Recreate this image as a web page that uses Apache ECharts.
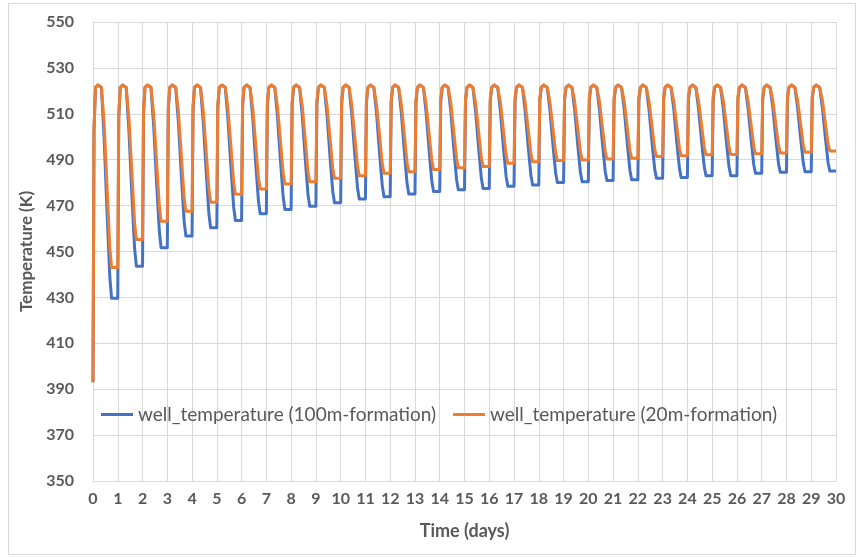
<!DOCTYPE html>
<html>
<head>
<meta charset="utf-8">
<script src="https://cdn.jsdelivr.net/npm/echarts@6/dist/echarts.min.js"></script>
<style>
  html, body { margin: 0; padding: 0; background: #ffffff; }
  #main { width: 863px; height: 557px; }
</style>
</head>
<body>
<div id="main"></div>
<script>
// time samples (days), one row per daily cycle
var timeDays = [
    0, 0.04, 0.1, 0.2, 0.34, 0.45, 0.57, 0.68, 0.75,
    1, 1.04, 1.1, 1.2, 1.34, 1.45, 1.57, 1.68, 1.75,
    2, 2.04, 2.1, 2.2, 2.34, 2.45, 2.57, 2.68, 2.75,
    3, 3.04, 3.1, 3.2, 3.34, 3.45, 3.57, 3.68, 3.75,
    4, 4.04, 4.1, 4.2, 4.34, 4.45, 4.57, 4.68, 4.75,
    5, 5.04, 5.1, 5.2, 5.34, 5.45, 5.57, 5.68, 5.75,
    6, 6.04, 6.1, 6.2, 6.34, 6.45, 6.57, 6.68, 6.75,
    7, 7.04, 7.1, 7.2, 7.34, 7.45, 7.57, 7.68, 7.75,
    8, 8.04, 8.1, 8.2, 8.34, 8.45, 8.57, 8.68, 8.75,
    9, 9.04, 9.1, 9.2, 9.34, 9.45, 9.57, 9.68, 9.75,
    10, 10.04, 10.1, 10.2, 10.34, 10.45, 10.57, 10.68, 10.75,
    11, 11.04, 11.1, 11.2, 11.34, 11.45, 11.57, 11.68, 11.75,
    12, 12.04, 12.1, 12.2, 12.34, 12.45, 12.57, 12.68, 12.75,
    13, 13.04, 13.1, 13.2, 13.34, 13.45, 13.57, 13.68, 13.75,
    14, 14.04, 14.1, 14.2, 14.34, 14.45, 14.57, 14.68, 14.75,
    15, 15.04, 15.1, 15.2, 15.34, 15.45, 15.57, 15.68, 15.75,
    16, 16.04, 16.1, 16.2, 16.34, 16.45, 16.57, 16.68, 16.75,
    17, 17.04, 17.1, 17.2, 17.34, 17.45, 17.57, 17.68, 17.75,
    18, 18.04, 18.1, 18.2, 18.34, 18.45, 18.57, 18.68, 18.75,
    19, 19.04, 19.1, 19.2, 19.34, 19.45, 19.57, 19.68, 19.75,
    20, 20.04, 20.1, 20.2, 20.34, 20.45, 20.57, 20.68, 20.75,
    21, 21.04, 21.1, 21.2, 21.34, 21.45, 21.57, 21.68, 21.75,
    22, 22.04, 22.1, 22.2, 22.34, 22.45, 22.57, 22.68, 22.75,
    23, 23.04, 23.1, 23.2, 23.34, 23.45, 23.57, 23.68, 23.75,
    24, 24.04, 24.1, 24.2, 24.34, 24.45, 24.57, 24.68, 24.75,
    25, 25.04, 25.1, 25.2, 25.34, 25.45, 25.57, 25.68, 25.75,
    26, 26.04, 26.1, 26.2, 26.34, 26.45, 26.57, 26.68, 26.75,
    27, 27.04, 27.1, 27.2, 27.34, 27.45, 27.57, 27.68, 27.75,
    28, 28.04, 28.1, 28.2, 28.34, 28.45, 28.57, 28.68, 28.75,
    29, 29.04, 29.1, 29.2, 29.34, 29.45, 29.57, 29.68, 29.75,
    30
];

// well_temperature (100m-formation), K
var well100m = [
    393.0, 502.7, 521.5, 522.5, 521.5, 499.4, 466.4, 438.8, 429.6,
    429.6, 508.1, 521.5, 522.5, 521.5, 502.8, 474.8, 451.4, 443.6,
    443.6, 510.2, 521.5, 522.5, 521.5, 504.7, 479.6, 458.6, 451.6,
    451.6, 511.4, 521.5, 522.5, 521.5, 506.0, 482.6, 463.2, 456.7,
    456.7, 512.2, 521.5, 522.5, 521.5, 506.8, 484.8, 466.4, 460.3,
    460.3, 512.7, 521.5, 522.5, 521.5, 507.6, 486.7, 469.3, 463.5,
    463.5, 513.2, 521.5, 522.5, 521.5, 508.3, 488.5, 472.0, 466.5,
    466.5, 513.7, 521.5, 522.5, 521.5, 508.7, 489.6, 473.6, 468.3,
    468.3, 513.9, 521.5, 522.5, 521.5, 509.1, 490.4, 474.9, 469.7,
    469.7, 514.2, 521.5, 522.5, 521.5, 509.4, 491.3, 476.2, 471.2,
    471.2, 514.4, 521.5, 522.5, 521.5, 509.8, 492.3, 477.8, 472.9,
    472.9, 514.6, 521.5, 522.5, 521.5, 510.1, 492.9, 478.7, 473.9,
    473.9, 514.8, 521.5, 522.5, 521.5, 510.4, 493.7, 479.7, 475.1,
    475.1, 515.0, 521.5, 522.5, 521.5, 510.6, 494.3, 480.6, 476.1,
    476.1, 515.1, 521.5, 522.5, 521.5, 510.8, 494.7, 481.4, 476.9,
    476.9, 515.2, 521.5, 522.5, 521.5, 510.9, 495.1, 481.9, 477.5,
    477.5, 515.3, 521.5, 522.5, 521.5, 511.2, 495.6, 482.7, 478.4,
    478.4, 515.5, 521.5, 522.5, 521.5, 511.3, 496.0, 483.3, 479.0,
    479.0, 515.6, 521.5, 522.5, 521.5, 511.6, 496.7, 484.2, 480.1,
    480.1, 515.7, 521.5, 522.5, 521.5, 511.6, 496.8, 484.5, 480.4,
    480.4, 515.8, 521.5, 522.5, 521.5, 511.8, 497.1, 485.0, 480.9,
    480.9, 515.8, 521.5, 522.5, 521.5, 511.9, 497.4, 485.3, 481.3,
    481.3, 515.9, 521.5, 522.5, 521.5, 512.0, 497.7, 485.9, 481.9,
    481.9, 516.0, 521.5, 522.5, 521.5, 512.1, 497.9, 486.1, 482.2,
    482.2, 516.0, 521.5, 522.5, 521.5, 512.3, 498.4, 486.9, 483.0,
    483.0, 516.2, 521.5, 522.5, 521.5, 512.3, 498.4, 486.9, 483.0,
    483.0, 516.2, 521.5, 522.5, 521.5, 512.5, 499.1, 487.8, 484.1,
    484.1, 516.3, 521.5, 522.5, 521.5, 512.6, 499.3, 488.2, 484.5,
    484.5, 516.4, 521.5, 522.5, 521.5, 512.7, 499.5, 488.5, 484.8,
    484.8, 516.4, 521.5, 522.5, 521.5, 512.8, 499.7, 488.7, 485.1,
    485.1
];

// well_temperature (20m-formation), K
var well20m = [
    393.0, 502.7, 521.5, 522.5, 521.5, 505.8, 477.5, 451.6, 443.0,
    443.0, 510.2, 521.5, 522.5, 521.5, 508.2, 484.4, 462.5, 455.2,
    455.2, 512.0, 521.5, 522.5, 521.5, 509.8, 488.9, 469.6, 463.2,
    463.2, 513.2, 521.5, 522.5, 521.5, 510.7, 491.3, 473.4, 467.5,
    467.5, 513.8, 521.5, 522.5, 521.5, 511.5, 493.5, 477.0, 471.5,
    471.5, 514.4, 521.5, 522.5, 521.5, 512.2, 495.5, 480.1, 475.0,
    475.0, 515.0, 521.5, 522.5, 521.5, 512.6, 496.7, 482.1, 477.2,
    477.2, 515.3, 521.5, 522.5, 521.5, 513.1, 497.9, 484.0, 479.4,
    479.4, 515.6, 521.5, 522.5, 521.5, 513.3, 498.5, 484.9, 480.4,
    480.4, 515.8, 521.5, 522.5, 521.5, 513.6, 499.3, 486.3, 481.9,
    481.9, 516.0, 521.5, 522.5, 521.5, 513.8, 499.9, 487.2, 483.0,
    483.0, 516.2, 521.5, 522.5, 521.5, 514.0, 500.6, 488.2, 484.1,
    484.1, 516.3, 521.5, 522.5, 521.5, 514.2, 501.0, 488.8, 484.8,
    484.8, 516.4, 521.5, 522.5, 521.5, 514.3, 501.5, 489.6, 485.7,
    485.7, 516.6, 521.5, 522.5, 521.5, 514.5, 501.9, 490.4, 486.5,
    486.5, 516.7, 521.5, 522.5, 521.5, 514.6, 502.2, 490.8, 487.0,
    487.0, 516.8, 521.5, 522.5, 521.5, 514.9, 503.0, 492.0, 488.4,
    488.4, 517.0, 521.5, 522.5, 521.5, 515.0, 503.4, 492.7, 489.1,
    489.1, 517.1, 521.5, 522.5, 521.5, 515.1, 503.6, 493.1, 489.6,
    489.6, 517.1, 521.5, 522.5, 521.5, 515.2, 503.8, 493.4, 489.9,
    489.9, 517.2, 521.5, 522.5, 521.5, 515.3, 504.0, 493.7, 490.3,
    490.3, 517.3, 521.5, 522.5, 521.5, 515.3, 504.2, 494.0, 490.6,
    490.6, 517.3, 521.5, 522.5, 521.5, 515.5, 504.6, 494.7, 491.4,
    491.4, 517.4, 521.5, 522.5, 521.5, 515.5, 504.8, 495.0, 491.7,
    491.7, 517.5, 521.5, 522.5, 521.5, 515.6, 505.1, 495.4, 492.2,
    492.2, 517.5, 521.5, 522.5, 521.5, 515.7, 505.2, 495.5, 492.3,
    492.3, 517.5, 521.5, 522.5, 521.5, 515.7, 505.3, 495.8, 492.6,
    492.6, 517.6, 521.5, 522.5, 521.5, 515.8, 505.5, 496.1, 492.9,
    492.9, 517.6, 521.5, 522.5, 521.5, 515.8, 505.7, 496.3, 493.2,
    493.2, 517.7, 521.5, 522.5, 521.5, 516.0, 506.0, 496.9, 493.8,
    493.8
];

var seriesNames = ['well_temperature (100m-formation)', 'well_temperature (20m-formation)'];

var pairUp = function(xs, ys) {
    var res = [];
    for (var i = 0; i < xs.length; i++) {
        res.push([xs[i], ys[i]]);
    }
    return res;
};

var myChart = echarts.init(document.getElementById('main'));

var textColor = '#595959';
var gridColor = '#d9d9d9';
var fontName = 'Lato';

option = {
    backgroundColor: '#ffffff',
    animation: false,
    graphic: [{
        type: 'rect',
        shape: { x: 8.5, y: 3.5, width: 847, height: 551 },
        style: { fill: 'none', stroke: gridColor, lineWidth: 1 },
        silent: true
    }],
    grid: {
        left: 93,
        right: 27,
        top: 22,
        bottom: 76,
        containLabel: false
    },
    legend: [{
        data: [seriesNames[0]],
        left: 96,
        top: 400,
        itemWidth: 32,
        itemHeight: 3,
        icon: 'rect',
        textStyle: { color: textColor, fontSize: 19, fontFamily: fontName }
    }, {
        data: [seriesNames[1]],
        left: 448,
        top: 400,
        itemWidth: 32,
        itemHeight: 3,
        icon: 'rect',
        textStyle: { color: textColor, fontSize: 19, fontFamily: fontName }
    }],
    xAxis: {
        type: 'value',
        min: 0,
        max: 30,
        interval: 1,
        name: 'Time (days)',
        nameLocation: 'middle',
        nameGap: 41,
        nameTextStyle: { color: textColor, fontSize: 18, fontWeight: 'bold', fontFamily: fontName },
        axisLine: { lineStyle: { color: gridColor } },
        axisTick: { show: false },
        axisLabel: { color: textColor, fontSize: 16, fontWeight: 'bold', fontFamily: fontName, margin: 10 },
        splitLine: { show: true, lineStyle: { color: gridColor } }
    },
    yAxis: {
        type: 'value',
        min: 350,
        max: 550,
        interval: 20,
        name: 'Temperature (K)',
        nameLocation: 'middle',
        nameGap: 56,
        nameTextStyle: { color: textColor, fontSize: 17, fontWeight: 'bold', fontFamily: fontName },
        axisLine: { show: true, lineStyle: { color: gridColor } },
        axisTick: { show: false },
        axisLabel: { color: textColor, fontSize: 16, fontWeight: 'bold', fontFamily: fontName, margin: 19 },
        splitLine: { show: true, lineStyle: { color: gridColor } }
    },
    series: [{
        name: seriesNames[0],
        type: 'line',
        data: pairUp(timeDays, well100m),
        showSymbol: false,
        symbol: 'none',
        color: '#4472C4',
        lineStyle: { width: 3, color: '#4472C4', join: 'round' }
    }, {
        name: seriesNames[1],
        type: 'line',
        data: pairUp(timeDays, well20m),
        showSymbol: false,
        symbol: 'none',
        color: '#ED7D31',
        lineStyle: { width: 3, color: '#ED7D31', join: 'round' }
    }]
};

myChart.setOption(option);
</script>
</body>
</html>
